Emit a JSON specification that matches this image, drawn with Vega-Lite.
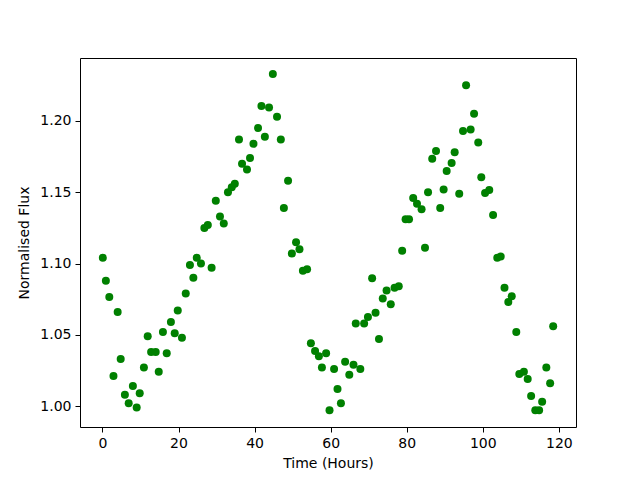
{
  "$schema": "https://vega.github.io/schema/vega-lite/v6.json",
  "width": 496,
  "height": 369,
  "autosize": {"type": "none"},
  "padding": {"left": 80, "top": 58, "right": 64, "bottom": 53},
  "background": "white",
  "config": {
    "view": {"stroke": "black", "strokeWidth": 1},
    "axis": {
      "grid": false,
      "domain": false,
      "tickColor": "black",
      "tickSize": 5,
      "tickWidth": 1,
      "labelColor": "black",
      "labelFont": "DejaVu Sans",
      "labelFontSize": 14,
      "labelPadding": 4,
      "titleFont": "DejaVu Sans",
      "titleFontSize": 14,
      "titleFontWeight": "normal",
      "titleColor": "black"
    }
  },
  "data": {
    "values": [
      {"t": 0.1, "f": 1.104}, {"t": 0.9, "f": 1.088}, {"t": 1.8, "f": 1.0765}, {"t": 2.9, "f": 1.021},
      {"t": 4.0, "f": 1.066}, {"t": 4.8, "f": 1.033}, {"t": 5.9, "f": 1.008}, {"t": 6.9, "f": 1.002},
      {"t": 8.0, "f": 1.014}, {"t": 9.0, "f": 0.999}, {"t": 9.8, "f": 1.009}, {"t": 10.9, "f": 1.027},
      {"t": 11.9, "f": 1.049}, {"t": 12.8, "f": 1.038}, {"t": 14.0, "f": 1.038}, {"t": 14.8, "f": 1.024},
      {"t": 15.9, "f": 1.052}, {"t": 16.9, "f": 1.037}, {"t": 18.0, "f": 1.059}, {"t": 19.0, "f": 1.051},
      {"t": 19.8, "f": 1.067}, {"t": 20.9, "f": 1.048}, {"t": 21.9, "f": 1.079}, {"t": 23.0, "f": 1.099},
      {"t": 23.9, "f": 1.090}, {"t": 24.8, "f": 1.104}, {"t": 25.9, "f": 1.100}, {"t": 26.8, "f": 1.125},
      {"t": 27.7, "f": 1.127}, {"t": 28.7, "f": 1.097}, {"t": 29.8, "f": 1.144}, {"t": 30.9, "f": 1.133},
      {"t": 31.9, "f": 1.128}, {"t": 33.0, "f": 1.150}, {"t": 34.0, "f": 1.1535}, {"t": 34.8, "f": 1.156},
      {"t": 35.9, "f": 1.187}, {"t": 36.7, "f": 1.170}, {"t": 38.0, "f": 1.166}, {"t": 38.8, "f": 1.174},
      {"t": 39.7, "f": 1.184}, {"t": 40.9, "f": 1.195}, {"t": 41.8, "f": 1.2105}, {"t": 42.7, "f": 1.189},
      {"t": 43.8, "f": 1.2095}, {"t": 44.8, "f": 1.233}, {"t": 45.9, "f": 1.203}, {"t": 46.9, "f": 1.187},
      {"t": 47.7, "f": 1.139}, {"t": 48.8, "f": 1.158}, {"t": 49.8, "f": 1.107}, {"t": 50.9, "f": 1.115},
      {"t": 51.8, "f": 1.110}, {"t": 52.7, "f": 1.095}, {"t": 53.8, "f": 1.096}, {"t": 54.8, "f": 1.044},
      {"t": 55.9, "f": 1.0386}, {"t": 56.9, "f": 1.035}, {"t": 57.7, "f": 1.027}, {"t": 58.8, "f": 1.037},
      {"t": 59.7, "f": 0.997}, {"t": 60.9, "f": 1.026}, {"t": 61.8, "f": 1.012}, {"t": 62.7, "f": 1.002},
      {"t": 63.8, "f": 1.031}, {"t": 64.9, "f": 1.022}, {"t": 66.0, "f": 1.029}, {"t": 66.6, "f": 1.058},
      {"t": 67.8, "f": 1.026}, {"t": 68.8, "f": 1.058}, {"t": 69.8, "f": 1.0625}, {"t": 70.9, "f": 1.0896},
      {"t": 71.8, "f": 1.0655}, {"t": 72.7, "f": 1.047}, {"t": 73.7, "f": 1.0755}, {"t": 74.7, "f": 1.081},
      {"t": 75.8, "f": 1.0714}, {"t": 76.8, "f": 1.083}, {"t": 77.9, "f": 1.084}, {"t": 78.8, "f": 1.109},
      {"t": 79.7, "f": 1.131}, {"t": 80.6, "f": 1.131}, {"t": 81.7, "f": 1.146}, {"t": 82.7, "f": 1.142},
      {"t": 83.9, "f": 1.138}, {"t": 84.8, "f": 1.111}, {"t": 85.6, "f": 1.150}, {"t": 86.7, "f": 1.1735},
      {"t": 87.7, "f": 1.179}, {"t": 88.8, "f": 1.139}, {"t": 89.7, "f": 1.152}, {"t": 90.5, "f": 1.165},
      {"t": 91.8, "f": 1.1705}, {"t": 92.6, "f": 1.178}, {"t": 93.8, "f": 1.149}, {"t": 94.8, "f": 1.193},
      {"t": 95.6, "f": 1.225}, {"t": 96.8, "f": 1.194}, {"t": 97.7, "f": 1.205}, {"t": 98.8, "f": 1.185},
      {"t": 99.6, "f": 1.1605}, {"t": 100.6, "f": 1.1495}, {"t": 101.7, "f": 1.1516}, {"t": 102.7, "f": 1.134},
      {"t": 103.8, "f": 1.104}, {"t": 104.7, "f": 1.105}, {"t": 105.7, "f": 1.083}, {"t": 106.7, "f": 1.073},
      {"t": 107.6, "f": 1.077}, {"t": 108.8, "f": 1.052}, {"t": 109.6, "f": 1.0225}, {"t": 110.8, "f": 1.024},
      {"t": 111.8, "f": 1.019}, {"t": 112.7, "f": 1.007}, {"t": 113.8, "f": 0.997}, {"t": 114.8, "f": 0.997},
      {"t": 115.6, "f": 1.003}, {"t": 116.7, "f": 1.027}, {"t": 117.7, "f": 1.016}, {"t": 118.5, "f": 1.056}
    ]
  },
  "mark": {"type": "point", "filled": true, "shape": "circle", "size": 64, "color": "#008000", "opacity": 1},
  "encoding": {
    "x": {
      "field": "t", "type": "quantitative", "title": "Time (Hours)",
      "scale": {"domain": [-5.9, 124.5], "nice": false, "zero": false},
      "axis": {"values": [0, 20, 40, 60, 80, 100, 120], "titlePadding": 6}
    },
    "y": {
      "field": "f", "type": "quantitative", "title": "Normalised Flux",
      "scale": {"domain": [0.9853, 1.2442], "nice": false, "zero": false},
      "axis": {"values": [1.0, 1.05, 1.1, 1.15, 1.2], "format": ".2f", "titlePadding": 8}
    }
  }
}
